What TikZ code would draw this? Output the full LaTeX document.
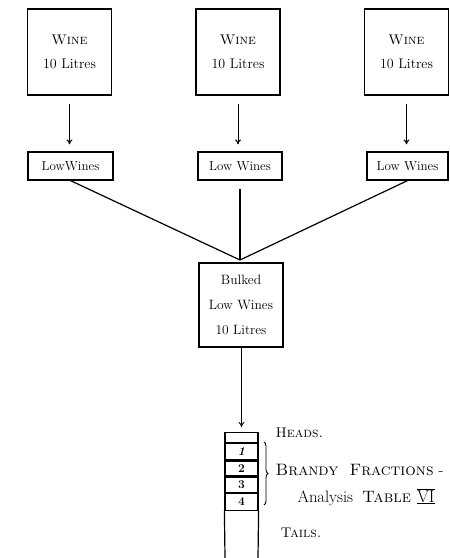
\documentclass[tikz,border=0pt]{standalone}
\usetikzlibrary{arrows.meta,decorations.pathreplacing}
\begin{document}
\begin{tikzpicture}[x=1pt,y=-1pt,
  line width=1.2pt,
  box/.style={draw, inner sep=0pt, align=center},
  winebox/.style={box, minimum width=84pt, minimum height=86pt, font=\fontsize{14}{24}\selectfont},
  lowbox/.style={box, minimum height=28pt, font=\fontsize{13}{15}\selectfont},
  cell/.style={draw, inner sep=0pt, minimum width=33pt, font=\bfseries\fontsize{12}{12}\selectfont},
  flow/.style={-{To[length=5pt,width=6pt]}, line width=1pt},
  lbl/.style={anchor=west, inner sep=0pt, font=\fontsize{14}{16}\selectfont},
  widelbl/.style={lbl, font=\fontsize{16.5}{18}\selectfont}
]
\useasboundingbox (0,0) rectangle (450,558);

% wine boxes
\node[winebox] (w1) at (69.5,52) {\textsc{Wine}\\10 Litres};
\node[winebox] (w2) at (238,52) {\textsc{Wine}\\10 Litres};
\node[winebox] (w3) at (406.5,52) {\textsc{Wine}\\10 Litres};

% low wines boxes
\node[lowbox, minimum width=85pt] (l1) at (70.5,166) {LowWines};
\node[lowbox, minimum width=84pt] (l2) at (240,166) {Low Wines};
\node[lowbox, minimum width=81pt] (l3) at (407.5,166) {Low Wines};

% arrows wine -> low wines
\draw[flow, shorten <=8pt, shorten >=7pt] (w1.south) -- (w1.south |- l1.north);
\draw[flow, shorten <=8pt, shorten >=7pt] (w2.south) -- (w2.south |- l2.north);
\draw[flow, shorten <=8pt, shorten >=7pt] (w3.south) -- (w3.south |- l3.north);

% bulked box
\node[winebox, minimum height=84pt, font=\fontsize{13.5}{25}\selectfont] (b) at (241,305) {Bulked\\Low Wines\\10 Litres};
\coordinate (join) at (240,260);
\draw (l1.south) -- (join);
\draw[shorten <=8pt] (l2.south) -- (join);
\draw (l3.south) -- (join);

% column
\node[cell, minimum height=10pt, anchor=north] (c0) at (241.5,432) {};
\node[cell, minimum height=16pt, anchor=north] (c1) at (c0.south) {\textit{1}};
\node[cell, minimum height=15pt, anchor=north] (c2) at (c1.south) {2};
\node[cell, minimum height=15pt, anchor=north] (c3) at (c2.south) {3};
\node[cell, minimum height=17pt, anchor=north] (c4) at (c3.south) {4};
\coordinate (cbl) at (225,558);
\coordinate (cbr) at (258,558);
\draw (c4.south west) -- (cbl);
\draw (c4.south east) -- (cbr);

\draw[flow, shorten >=5pt] (c0.north |- b.south) -- (c0.north);

% brace
\draw[line width=0.9pt, decorate, decoration={brace, amplitude=4pt}] (264,442) -- (264,505);

% labels
\node[lbl] (heads) at (275,433) {\textsc{Heads.}};
\node[widelbl] (brandy) at (275,470) {\textsc{Brandy}\hspace{11pt}\textsc{Fractions}\hspace{5pt}-};
\node[widelbl] (anal) at (297,497) {Analysis\hspace{9pt}\textsc{Table}\hspace{6pt}$\underline{\overline{\mathrm{VI}}}$};
\node[lbl] (tails) at (280,533) {\textsc{Tails.}};
\end{tikzpicture}
\end{document}
